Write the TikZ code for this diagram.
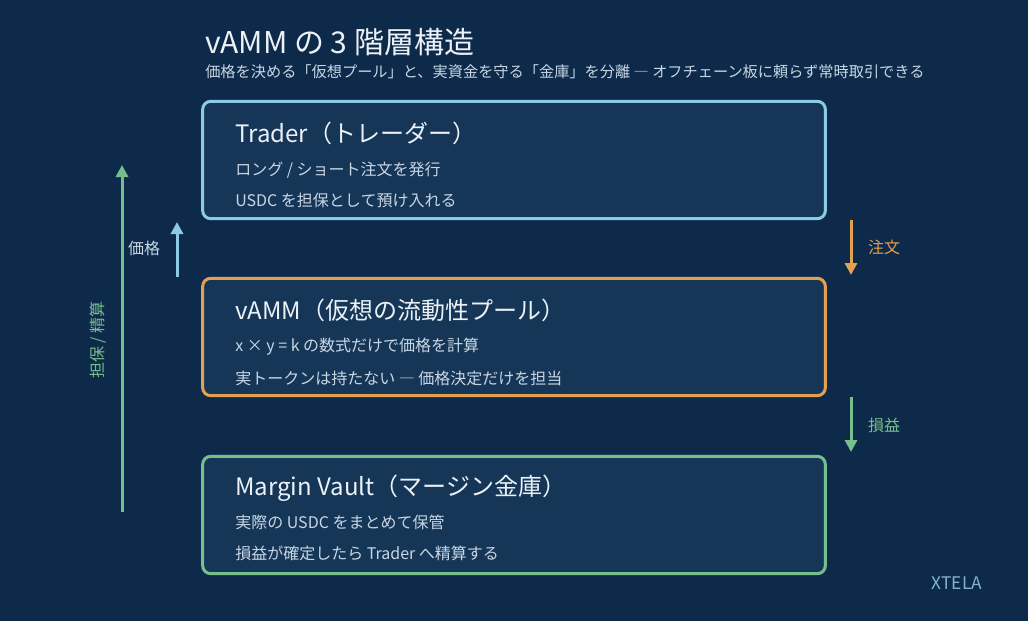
\documentclass[tikz,border=0pt]{standalone}
\usepackage{fontspec}
\setmainfont{Noto Sans CJK JP}
\usepackage{xcolor}
\usetikzlibrary{arrows.meta, positioning}

\definecolor{bgnavy}{RGB}{14,42,74}
\definecolor{boxfill}{RGB}{22,54,88}
\definecolor{tradercol}{RGB}{142,202,230}
\definecolor{vammcol}{RGB}{226,160,80}
\definecolor{vaultcol}{RGB}{118,190,140}
\definecolor{headcol}{RGB}{236,241,247}
\definecolor{bodycol}{RGB}{200,214,228}
\definecolor{markcol}{RGB}{130,180,210}

\tikzset{
	tierbox/.style={rounded corners=6pt, line width=2.25pt, fill=boxfill,
		minimum width=467pt, minimum height=88pt},
	headtext/.style={anchor=west, inner sep=0pt, text=headcol, font=\fontsize{18}{20}\selectfont},
	bodytext/.style={anchor=west, inner sep=0pt, text=bodycol, font=\fontsize{12}{14}\selectfont},
	sidetext/.style={font=\fontsize{12}{14}\selectfont},
	flow/.style={-{Triangle[width=9pt,length=9pt]}, line width=2.25pt}
}

\begin{document}
\begin{tikzpicture}[x=0.75pt, y=-0.75pt]
				\fill[bgnavy] (0,0) rectangle (1028,621);
				\useasboundingbox (0,0) rectangle (1028,621);
				% title
				\node at (205,42) (title) [anchor=west, inner sep=0pt, text=headcol, font=\fontsize{22.5}{24}\selectfont] {vAMM の 3 階層構造};
				\node at (205,72) (subtitle) [bodytext, font=\fontsize{11.4}{13}\selectfont] {価格を決める「仮想プール」と、実資金を守る「金庫」を分離 ― オフチェーン板に頼らず常時取引できる};
				% three tiers
				\node at (514,160) (trader) [tierbox, draw=tradercol] {};
				\node at (514,337) (vamm) [tierbox, draw=vammcol] {};
				\node at (514,515) (vault) [tierbox, draw=vaultcol] {};
				\node at (235,133) (traderhead) [headtext] {Trader（トレーダー）};
				\node at (235,170) (traderone) [bodytext] {ロング / ショート注文を発行};
				\node at (235,200) (tradertwo) [bodytext] {USDC を担保として預け入れる};
				\node at (235,310) (vammhead) [headtext] {vAMM（仮想の流動性プール）};
				\node at (235,347) (vammone) [bodytext] {x × y = k の数式だけで価格を計算};
				\node at (235,378) (vammtwo) [bodytext] {実トークンは持たない ― 価格決定だけを担当};
				\node at (235,488) (vaulthead) [headtext] {Margin Vault（マージン金庫）};
				\node at (235,522) (vaultone) [bodytext] {実際の USDC をまとめて保管};
				\node at (235,553) (vaulttwo) [bodytext] {損益が確定したら Trader へ精算する};
				% side flows
				\coordinate (collbot) at (122,512);
				\coordinate (colltop) at (122,165);
				\coordinate (pricebot) at (177,277);
				\coordinate (pricetop) at (177,222);
				\coordinate (ordtop) at (851,220);
				\coordinate (ordbot) at (851,275);
				\coordinate (pnltop) at (851,397);
				\coordinate (pnlbot) at (851,452);
				\draw[flow, vaultcol] (collbot) -- (colltop);
				\draw[flow, tradercol] (pricebot) -- (pricetop);
				\draw[flow, vammcol] (ordtop) -- (ordbot);
				\draw[flow, vaultcol] (pnltop) -- (pnlbot);
				\node at (98,340) (colllabel) [sidetext, text=vaultcol, rotate=90] {担保 / 精算};
				\node at (144,248) (pricelabel) [sidetext, text=bodycol] {価格};
				\node at (884,247) (ordlabel) [sidetext, text=vammcol] {注文};
				\node at (884,425) (pnllabel) [sidetext, text=vaultcol] {損益};
				\node at (957,583) (brand) [sidetext, text=markcol, font=\fontsize{13}{15}\selectfont] {XTELA};
\end{tikzpicture}
\end{document}
